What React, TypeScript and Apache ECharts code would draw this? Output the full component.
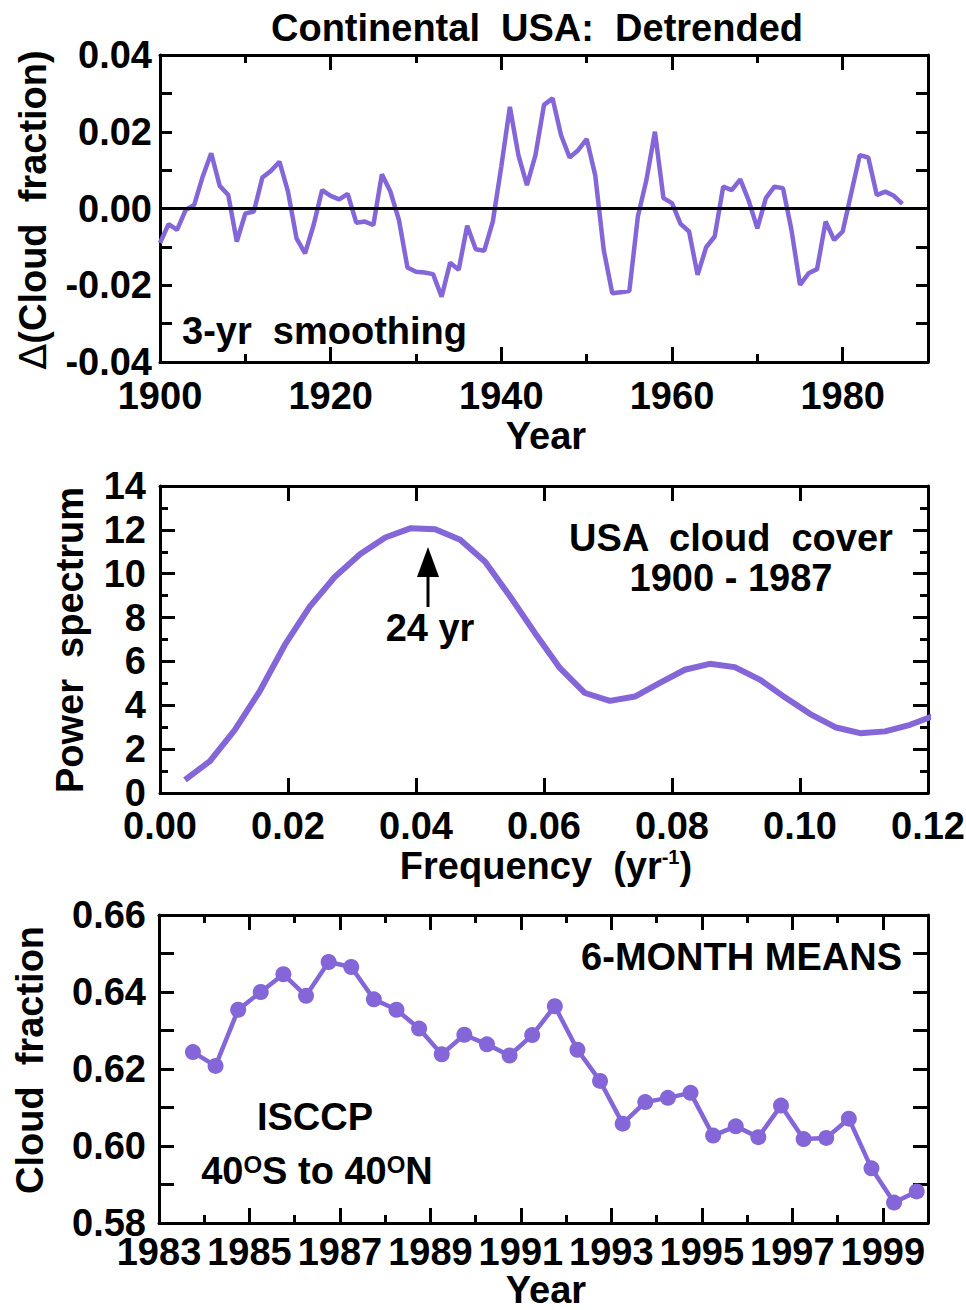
import React, { useEffect, useRef } from "react";
import * as echarts from "echarts";

// ---------- Data ----------
// Panel 1: Continental USA detrended cloud fraction (3-yr smoothing), yearly from 1900
const topStartYear = 1900;
const topValues = [
  -0.009, -0.0041, -0.0056, -0.0004, 0.0009, 0.0083, 0.0144, 0.0059, 0.0035, -0.0086,
  -0.0013, -0.0008, 0.0081, 0.0098, 0.0122, 0.0044, -0.0078, -0.0117, -0.0043, 0.0048,
  0.0033, 0.0024, 0.0038, -0.0037, -0.0034, -0.0043, 0.0089, 0.0044, -0.003, -0.0154,
  -0.0165, -0.0167, -0.0171, -0.023, -0.0141, -0.016, -0.0045, -0.0106, -0.011, -0.0034,
  0.011, 0.0265, 0.0139, 0.0061, 0.0139, 0.027, 0.0287, 0.0191, 0.0133, 0.0152,
  0.0181, 0.0087, -0.0108, -0.0221, -0.0218, -0.0215, -0.0021, 0.0074, 0.02, 0.0027,
  0.0014, -0.004, -0.006, -0.0173, -0.0101, -0.0073, 0.0057, 0.0048, 0.0076, 0.002,
  -0.0052, 0.0027, 0.0057, 0.0053, -0.0056, -0.0199, -0.0169, -0.0158, -0.0034, -0.0082,
  -0.006, 0.004, 0.0139, 0.0133, 0.0035, 0.0044, 0.0033, 0.0012,
];

// Panel 2: power spectrum
const frequencies = [
  0.0039, 0.0078, 0.0117, 0.0156, 0.0195, 0.0234, 0.0273, 0.0313, 0.0352, 0.0391,
  0.043, 0.0469, 0.0508, 0.0547, 0.0586, 0.0625, 0.0664, 0.0703, 0.0742, 0.0781,
  0.082, 0.0859, 0.0898, 0.0938, 0.0977, 0.1016, 0.1055, 0.1094, 0.1133, 0.1172, 0.1211,
];
const power = [
  0.6, 1.45, 2.88, 4.65, 6.75, 8.5, 9.85, 10.9, 11.65, 12.07,
  12.03, 11.55, 10.55, 8.96, 7.29, 5.69, 4.56, 4.2, 4.4, 5.02,
  5.62, 5.89, 5.74, 5.16, 4.35, 3.6, 3.0, 2.73, 2.81, 3.11, 3.54,
];

// Panel 3: ISCCP 6-month means
const isccpTimes = [
  1983.75, 1984.25, 1984.75, 1985.25, 1985.75, 1986.25, 1986.75, 1987.25, 1987.75, 1988.25,
  1988.75, 1989.25, 1989.75, 1990.25, 1990.75, 1991.25, 1991.75, 1992.25, 1992.75, 1993.25,
  1993.75, 1994.25, 1994.75, 1995.25, 1995.75, 1996.25, 1996.75, 1997.25, 1997.75, 1998.25,
  1998.75, 1999.25, 1999.75,
];
const isccpValues = [
  0.6244, 0.6208, 0.6354, 0.64, 0.6446, 0.639, 0.6478, 0.6465, 0.6381, 0.6354,
  0.6305, 0.6238, 0.6289, 0.6264, 0.6235, 0.6288, 0.6363, 0.625, 0.6169, 0.6058,
  0.6114, 0.6125, 0.6138, 0.6027, 0.6051, 0.6023, 0.6105, 0.6018, 0.6021, 0.6071,
  0.5942, 0.5853, 0.5882,
];
const isccpBaseYear = 1983;

// ---------- Styles ----------
const FONT = "'Liberation Sans', Arial, Helvetica, sans-serif";
const PURPLE = "#8466d8";
const FS = 38;

function axis(gridIndex: number, position: string, min: number, max: number, interval: number,
  tickLen: number, opts: any = {}) {
  return {
    type: "value",
    gridIndex,
    position,
    min,
    max,
    interval,
    axisLine: { show: opts.line !== false, onZero: false, lineStyle: { color: "#000", width: 3 } },
    axisTick: { show: true, inside: true, length: tickLen, lineStyle: { color: "#000", width: 3 } },
    minorTick: opts.minor
      ? { show: true, splitNumber: opts.minor, length: opts.minorLen, lineStyle: { color: "#000", width: 3 } }
      : { show: false },
    axisLabel: opts.label
      ? {
          show: true,
          color: "#000",
          fontFamily: FONT,
          fontWeight: "bold",
          fontSize: FS,
          lineHeight: 30,
          margin: opts.margin,
          formatter: opts.formatter,
          showMinLabel: true,
          showMaxLabel: opts.showMax === false ? false : true,
        }
      : { show: false },
    splitLine: { show: false },
    minorSplitLine: { show: false },
  };
}

function txt(text: string, x: number, y: number, extra: any = {}) {
  return {
    type: "text",
    x,
    y,
    rotation: extra.rotation || 0,
    silent: true,
    style: {
      text,
      fill: "#000",
      fontFamily: FONT,
      fontWeight: "bold",
      fontSize: extra.fontSize || FS,
      lineHeight: extra.lineHeight,
      align: extra.align || "center",
      textAlign: extra.align || "center",
      verticalAlign: "middle",
      textVerticalAlign: "middle",
      rich: extra.rich,
    },
  };
}

export default function App() {
  const ref = useRef<HTMLDivElement>(null);

  useEffect(() => {
    if (!ref.current) return;
    const chart = echarts.init(ref.current, null, { renderer: "svg" });

    const gridTop = { left: 160, top: 55, width: 768, height: 307 };
    const gridMid = { left: 160, top: 486, width: 768, height: 307 };
    const gridBot = { left: 159, top: 915, width: 769, height: 308 };

    const fmt2 = (v: number) => (Math.abs(v) < 1e-9 ? 0 : v).toFixed(2);

    const richBase = { fontFamily: FONT, fontWeight: "bold", fontSize: FS, fill: "#000" };
    const richSup = { fontFamily: FONT, fontWeight: "bold", fontSize: 20, verticalAlign: "top", fill: "#000" };
    const richSupO = { fontFamily: FONT, fontWeight: "bold", fontSize: 24, verticalAlign: "top", fill: "#000" };
    const richDelta = { fontFamily: "'DejaVu Sans', " + FONT, fontWeight: "normal", fontSize: FS, fill: "#000" };

    const option: any = {
      animation: false,
      backgroundColor: "#fff",
      grid: [
        { ...gridTop, outerBoundsMode: "none" },
        { ...gridMid, outerBoundsMode: "none" },
        { ...gridBot, outerBoundsMode: "none" },
        { ...gridTop, outerBoundsMode: "none" },
        { ...gridBot, outerBoundsMode: "none" },
      ],
      xAxis: [
        axis(0, "bottom", 1900, 1990, 20, 15, { label: true, margin: 19, showMax: false, formatter: (v: number) => String(v) }),
        axis(0, "top", 1900, 1990, 20, 15),
        axis(1, "bottom", 0, 0.12, 0.02, 15, { label: true, margin: 18, formatter: fmt2 }),
        axis(1, "top", 0, 0.12, 0.02, 15),
        axis(2, "bottom", 0, 17, 2, 15, { label: true, margin: 14, showMax: false, formatter: (v: number) => String(isccpBaseYear + v) }),
        axis(2, "top", 0, 17, 2, 15),
        axis(3, "bottom", 1900, 1990, 10, 8, { line: false }),
        axis(3, "top", 1900, 1990, 10, 8, { line: false }),
        axis(4, "bottom", 0, 17, 1, 8, { line: false }),
        axis(4, "top", 0, 17, 1, 8, { line: false }),
      ],
      yAxis: [
        axis(0, "left", -0.04, 0.04, 0.02, 12, { label: true, margin: 8, minor: 2, minorLen: 12, formatter: fmt2 }),
        axis(0, "right", -0.04, 0.04, 0.02, 12, { minor: 2, minorLen: 12 }),
        axis(1, "left", 0, 14, 2, 15, { label: true, margin: 14, minor: 2, minorLen: 8, formatter: (v: number) => String(v) }),
        axis(1, "right", 0, 14, 2, 15, { minor: 2, minorLen: 8 }),
        axis(2, "left", 0.58, 0.66, 0.02, 15, { label: true, margin: 13, minor: 2, minorLen: 15, formatter: fmt2 }),
        axis(2, "right", 0.58, 0.66, 0.02, 15, { minor: 2, minorLen: 15 }),
        { type: "value", gridIndex: 3, show: false, min: 0, max: 1 },
        { type: "value", gridIndex: 4, show: false, min: 0, max: 1 },
      ],
      series: [
        {
          type: "line",
          xAxisIndex: 0,
          yAxisIndex: 0,
          data: topValues.map((v, i) => [topStartYear + i, v]),
          showSymbol: false,
          symbol: "none",
          lineStyle: { color: PURPLE, width: 4.5 },
          itemStyle: { color: PURPLE },
          markLine: {
            silent: true,
            symbol: ["none", "none"],
            label: { show: false },
            lineStyle: { color: "#000", width: 3, type: "solid" },
            data: [{ yAxis: 0 }],
          },
        },
        {
          type: "line",
          xAxisIndex: 2,
          yAxisIndex: 2,
          data: frequencies.map((f, i) => [f, power[i]]),
          showSymbol: false,
          symbol: "none",
          clip: true,
          lineStyle: { color: PURPLE, width: 6 },
          itemStyle: { color: PURPLE },
        },
        {
          type: "line",
          xAxisIndex: 4,
          yAxisIndex: 4,
          data: isccpTimes.map((t, i) => [t - isccpBaseYear, isccpValues[i]]),
          symbol: "circle",
          symbolSize: 16,
          showSymbol: true,
          lineStyle: { color: PURPLE, width: 4.5 },
          itemStyle: { color: PURPLE },
        },
      ],
      graphic: {
        elements: [
          txt("Continental  USA:  Detrended", 537, 28),
          {
            type: "text",
            x: 33,
            y: 210,
            rotation: Math.PI / 2,
            silent: true,
            style: {
              text: "{d|Δ}{b|(Cloud  fraction)}",
              align: "center",
              textAlign: "center",
              verticalAlign: "middle",
              textVerticalAlign: "middle",
              fill: "#000",
              fontFamily: FONT,
              fontWeight: "bold",
              fontSize: FS,
              rich: { b: richBase, d: richDelta },
            },
          },
          txt("Year", 546, 436),
          txt("3-yr  smoothing", 182, 331, { align: "left" }),
          txt("Power  spectrum", 70, 640, { rotation: Math.PI / 2 }),
          {
            type: "text",
            x: 546,
            y: 866,
            silent: true,
            style: {
              text: "{b|Frequency  (yr}{s|-1}{b|)}",
              align: "center",
              textAlign: "center",
              verticalAlign: "middle",
              textVerticalAlign: "middle",
              fill: "#000",
              fontFamily: FONT,
              fontWeight: "bold",
              fontSize: FS,
              rich: { b: richBase, s: richSup },
            },
          },
          txt("USA  cloud  cover", 731, 538),
          txt("1900 - 1987", 731, 578),
          txt("24 yr", 430, 628),
          { type: "polygon", silent: true, shape: { points: [[417, 577], [439, 577], [428, 547]] }, style: { fill: "#000" } },
          { type: "line", silent: true, shape: { x1: 428, y1: 575, x2: 428, y2: 607 }, style: { stroke: "#000", lineWidth: 3 } },
          txt("Cloud  fraction", 30, 1060, { rotation: Math.PI / 2 }),
          txt("Year", 546, 1290, { lineHeight: 30 }),
          txt("6-MONTH MEANS", 902, 957, { align: "right" }),
          txt("ISCCP", 315, 1117),
          {
            type: "text",
            x: 317,
            y: 1171,
            silent: true,
            style: {
              text: "{b|40}{s|O}{b|S to 40}{s|O}{b|N}",
              align: "center",
              textAlign: "center",
              verticalAlign: "middle",
              textVerticalAlign: "middle",
              fill: "#000",
              fontFamily: FONT,
              fontWeight: "bold",
              fontSize: FS,
              rich: { b: richBase, s: richSupO },
            },
          },
        ],
      },
    };

    chart.setOption(option);
    return () => chart.dispose();
  }, []);

  return (
    <div
      ref={ref}
      style={{ position: "absolute", left: 0, top: 0, width: 966, height: 1310, background: "#fff" }}
    />
  );
}
